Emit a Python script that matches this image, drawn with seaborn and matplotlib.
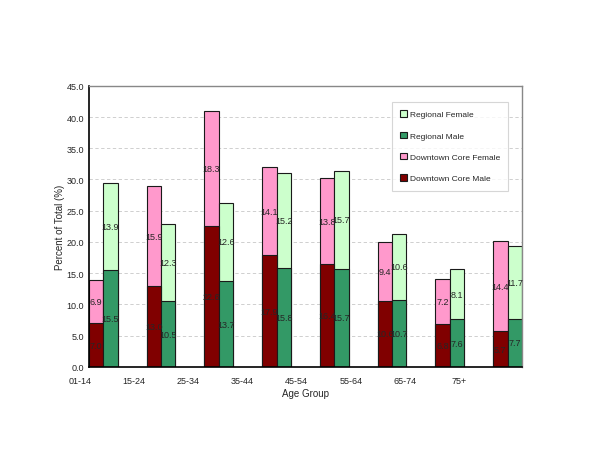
import numpy as np
import pandas as pd
import matplotlib
matplotlib.use("Agg")
import matplotlib.pyplot as plt
import seaborn as sns

# chart data
age_groups = ["01-14", "15-24", "25-34", "35-44", "45-54", "55-64", "65-74", "75+"]
dt_male = [7.0, 13.0, 22.6, 17.9, 16.4, 10.6, 6.8, 5.7]
dt_female = [6.9, 15.9, 18.3, 14.1, 13.8, 9.4, 7.2, 14.4]
reg_male = [15.5, 10.5, 13.7, 15.8, 15.7, 10.7, 7.6, 7.7]
reg_female = [13.9, 12.3, 12.6, 15.2, 15.7, 10.6, 8.1, 11.7]

c_dtm = "#800000"
c_dtf = "#FF99CC"
c_rm = "#339966"
c_rf = "#CCFFCC"

sns.set_style("white")
plt.rcParams["font.family"] = ["Liberation Sans", "DejaVu Sans"]

# each group: downtown bar, regional bar, two empty slots
pos_dt = np.arange(len(age_groups)) * 4
pos_rg = pos_dt + 1

df = pd.DataFrame({
    "pos_dt": pos_dt, "pos_rg": pos_rg,
    "dt_male": dt_male, "dt_total": np.add(dt_male, dt_female),
    "reg_male": reg_male, "reg_total": np.add(reg_male, reg_female),
})

fig = plt.figure(figsize=(6, 4.64), dpi=100)
ax = fig.add_axes([0.148, 0.207, 0.722, 0.606])

kw = dict(native_scale=True, width=0.25, saturation=1, edgecolor="#1a1a1a", linewidth=0.8, orient="v")
sns.barplot(data=df, x="pos_dt", y="dt_total", color=c_dtf, ax=ax, label="Downtown Core Female", **kw)
sns.barplot(data=df, x="pos_rg", y="reg_total", color=c_rf, ax=ax, label="Regional Female", **kw)
sns.barplot(data=df, x="pos_dt", y="dt_male", color=c_dtm, ax=ax, label="Downtown Core Male", **kw)
sns.barplot(data=df, x="pos_rg", y="reg_male", color=c_rm, ax=ax, label="Regional Male", **kw)

# segment labels
fs = 6.5
for i in range(len(age_groups)):
    ax.text(pos_dt[i], dt_male[i] / 2, f"{dt_male[i]:.1f}", ha="center", va="center", fontsize=fs)
    ax.text(pos_dt[i], dt_male[i] + dt_female[i] / 2, f"{dt_female[i]:.1f}", ha="center", va="center", fontsize=fs)
    ax.text(pos_rg[i], reg_male[i] / 2, f"{reg_male[i]:.1f}", ha="center", va="center", fontsize=fs)
    ax.text(pos_rg[i], reg_male[i] + reg_female[i] / 2, f"{reg_female[i]:.1f}", ha="center", va="center", fontsize=fs)

ax.set_yticks(np.arange(0, 46, 5))
ax.set_yticklabels([f"{v:.1f}" for v in np.arange(0, 46, 5)], fontsize=6.5)
ax.yaxis.grid(True, color="#C8C8C8", linestyle=(0, (4, 3)), linewidth=0.6)
ax.set_axisbelow(True)

# slot ticks at every bar edge; category labels spread evenly under the axis
ax.set_xticks(np.arange(0, 30) + 0.5, minor=True)
ax.set_xticks([])
ax.tick_params(axis="x", which="minor", length=3, width=0.8, direction="out", color="black")
ax.tick_params(axis="y", length=2.5, width=0.8, direction="out", color="black", pad=1)
ax.set_xlim(-0.5, 29.5)
ax.set_ylim(0, 45)
label_pos = -1.1 + 3.75 * np.arange(len(age_groups))
for xp, lab in zip(label_pos, age_groups):
    ax.text(xp, -0.033, lab, transform=ax.get_xaxis_transform(), ha="center", va="top",
            fontsize=6.5, clip_on=False)

ax.set_xlabel("Age Group", fontsize=7, labelpad=9)
ax.set_ylabel("Percent of Total (%)", fontsize=7, labelpad=1)

for s in ["left", "bottom"]:
    ax.spines[s].set_color("black")
    ax.spines[s].set_linewidth(1.2)
for s in ["top", "right"]:
    ax.spines[s].set_color("#888888")
    ax.spines[s].set_linewidth(1.0)

handles, labels = ax.get_legend_handles_labels()
order = ["Regional Female", "Regional Male", "Downtown Core Female", "Downtown Core Male"]
hmap = dict(zip(labels, handles))
leg = ax.legend([hmap[l] for l in order], order, loc="upper right",
                bbox_to_anchor=(0.968, 0.943), fontsize=6, frameon=True, fancybox=False,
                labelspacing=1.6, handlelength=0.8, handleheight=0.8, handletextpad=0.3,
                borderpad=1.0, borderaxespad=0)
leg.get_frame().set_edgecolor("#CCCCCC")
leg.get_frame().set_linewidth(0.8)

fig.savefig("out.png", dpi=100)
